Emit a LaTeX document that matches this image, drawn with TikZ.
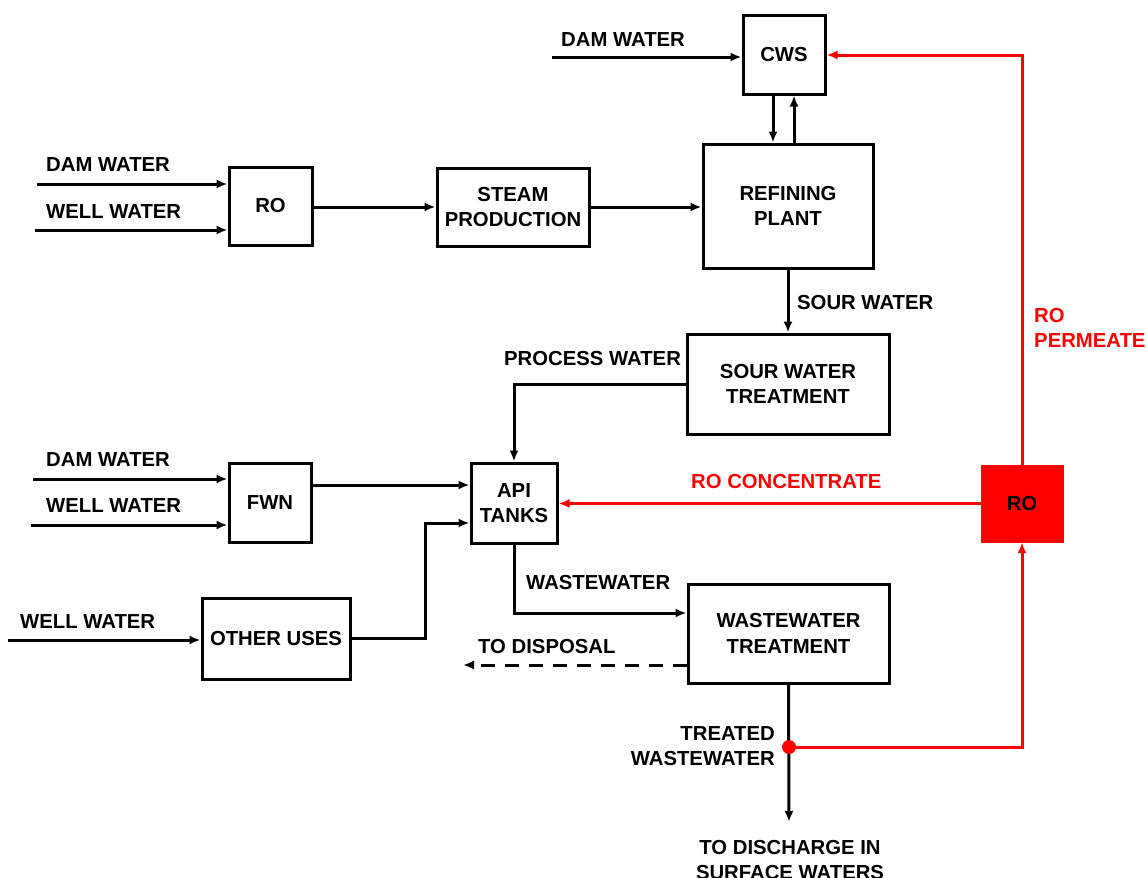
\documentclass[tikz,border=0pt]{standalone}
\usepackage{fontspec}
\setmainfont{Liberation Sans}
\usetikzlibrary{arrows.meta}
\begin{document}
\begin{tikzpicture}[x=1pt,y=-1pt,
  font=\fontsize{20.3}{25.5}\selectfont\bfseries,
  box/.style={draw,line width=3pt,inner sep=0pt,align=center},
  flow/.style={line width=3pt,-{Latex[length=11pt,width=9pt]}},
  rflow/.style={flow,red},
  lbl/.style={inner sep=0pt,align=left},
  rlbl/.style={lbl,text=red}]
\useasboundingbox (0,0) rectangle (1146,878);
% boxes
\node[box,minimum width=82pt,minimum height=79pt] (cws) at (784,54.5) {CWS};
\node[box,minimum width=83pt,minimum height=78pt] (ro1) at (270.5,206) {RO};
\node[box,minimum width=152pt,minimum height=78pt] (steam) at (513,207) {STEAM\\PRODUCTION};
\node[box,minimum width=170pt,minimum height=124pt] (ref) at (788,206) {REFINING\\PLANT};
\node[box,minimum width=202pt,minimum height=100pt] (sour) at (788,384) {SOUR WATER\\TREATMENT};
\node[box,minimum width=86pt,minimum height=80pt] (api) at (514,503) {API\\TANKS};
\node[box,minimum width=82pt,minimum height=79pt] (fwn) at (270,502.5) {FWN};
\node[box,minimum width=148pt,minimum height=81pt] (other) at (276,638.5) {OTHER USES};
\node[box,minimum width=201pt,minimum height=99pt] (wwt) at (788.5,633.5) {WASTEWATER\\TREATMENT};
\node[fill=red,draw=red,minimum width=82pt,minimum height=77pt,inner sep=0pt] (ro2) at (1022,503.5) {RO};
% free ends
\coordinate (c1) at (552,57);
\coordinate (c2) at (37,184);
\coordinate (c3) at (35,230);
\coordinate (c4) at (33,479);
\coordinate (c5) at (31,525);
\coordinate (c6) at (8,640);
\coordinate (disp) at (463,665);
\coordinate (dis) at (789,822);
\coordinate (dot) at (789,747);
% inputs
\draw[flow] (c1) -- (c1 -| cws.west);
\draw[flow] (c2) -- (c2 -| ro1.west);
\draw[flow] (c3) -- (c3 -| ro1.west);
\draw[flow] (c4) -- (c4 -| fwn.west);
\draw[flow] (c5) -- (c5 -| fwn.west);
\draw[flow] (c6) -- (c6 -| other.west);
\node[lbl,anchor=west] at (561,40) {DAM WATER};
\node[lbl,anchor=west] at (46,165) {DAM WATER};
\node[lbl,anchor=west] at (46,212) {WELL WATER};
\node[lbl,anchor=west] at (46,460) {DAM WATER};
\node[lbl,anchor=west] at (46,506) {WELL WATER};
\node[lbl,anchor=west] at (20,622) {WELL WATER};
% main flows
\draw[flow] (ro1.east |- steam.west) -- (steam.west);
\draw[flow] (steam.east) -- (ref.west |- steam.east);
\draw[flow] ([xshift=-11pt]cws.south) -- ([xshift=-11pt]cws.south |- ref.north);
\draw[flow] ([xshift=10pt]cws.south |- ref.north) -- ([xshift=10pt]cws.south);
\draw[flow] (ref.south) -- (sour.north);
\node[lbl,anchor=west] at (797,303) {SOUR WATER};
\draw[flow] (sour.west) -| (api.north);
\node[lbl,anchor=west] at (504,359) {PROCESS WATER};
\draw[flow] ([yshift=17.5pt]fwn.east) -- ([yshift=17.5pt]fwn.east -| api.west);
\draw[flow] (other.east) -| (425,523) -- (api.west |- 0,523);
\draw[flow] (api.south) |- (wwt.west |- 0,613);
\node[lbl,anchor=west] at (526,583) {WASTEWATER};
\draw[flow,dash pattern=on 14pt off 10pt] (wwt.west |- disp) -- (disp);
\node[lbl,anchor=west] at (478,647) {TO DISPOSAL};
\draw[flow] (wwt.south) -- (dis);
\node[align=center,inner sep=0pt,anchor=north] at (790,840) {TO DISCHARGE IN\\SURFACE WATERS};
\node[lbl,align=right,anchor=east] at (775,746) {TREATED\\WASTEWATER};
% red flows
\draw[rflow] (dot) -| (ro2.south);
\fill[red] (dot) circle (7pt);
\draw[rflow] (ro2.west) -- (api.east |- ro2.west);
\node[rlbl,anchor=west] at (691,482) {RO CONCENTRATE};
\draw[rflow] (ro2.north) |- (cws.east |- 0,55);
\node[rlbl,anchor=north west] at (1034,308) {RO\\PERMEATE};
\end{tikzpicture}
\end{document}
